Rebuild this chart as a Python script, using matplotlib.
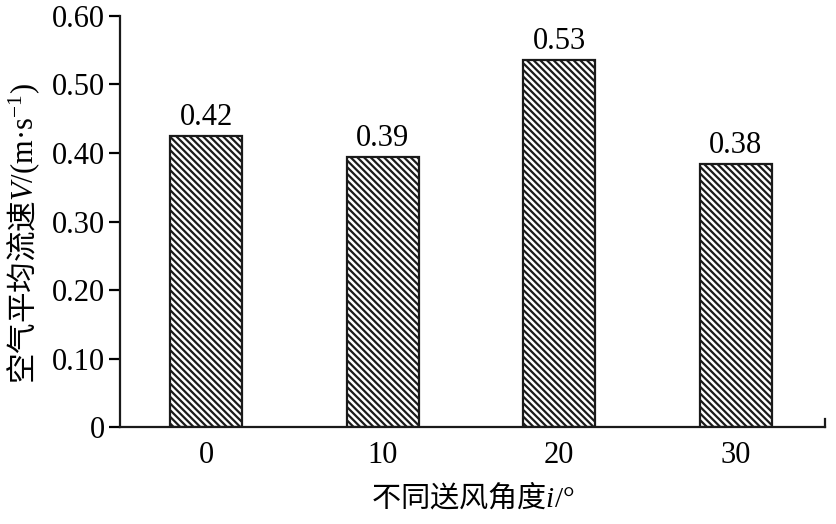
import matplotlib
matplotlib.use("Agg")
import matplotlib.pyplot as plt

# data
angles = ["0", "10", "20", "30"]
speeds = [0.425, 0.394, 0.536, 0.384]
speed_labels = ["0.42", "0.39", "0.53", "0.38"]
yticks = [0, 0.10, 0.20, 0.30, 0.40, 0.50, 0.60]
ytick_labels = ["0", "0.10", "0.20", "0.30", "0.40", "0.50", "0.60"]

plt.rcParams['font.family'] = ['Liberation Serif', 'Noto Sans CJK SC']
plt.rcParams['mathtext.fontset'] = 'custom'
plt.rcParams['mathtext.rm'] = 'Liberation Serif'
plt.rcParams['mathtext.it'] = 'Liberation Serif:italic'
plt.rcParams['mathtext.sf'] = 'Noto Sans CJK SC'
plt.rcParams['hatch.linewidth'] = 1.6

fig = plt.figure(figsize=(8.36, 5.24), dpi=100)
ax = fig.add_axes([0.1435, 0.185, 0.8435, 0.7845])

x = list(range(len(angles)))
ax.bar(x, speeds, width=0.41, color='white', edgecolor='#1a1a1a',
       linewidth=1.6, hatch='\\\\\\\\\\')

for xi, v, s in zip(x, speeds, speed_labels):
    ax.text(xi, v + 0.006, s, ha='center', va='bottom', fontsize=22)

ax.set_xlim(-0.489, 3.506)
ax.set_ylim(0, 0.6)
ax.set_xticks(x)
ax.set_xticklabels(angles, fontsize=22)
ax.set_yticks(yticks)
ax.set_yticklabels(ytick_labels, fontsize=22)

ax.tick_params(axis='x', length=0, pad=10)
ax.tick_params(axis='y', length=8, width=1.6, direction='out', pad=3)

ax.spines['top'].set_visible(False)
ax.spines['right'].set_bounds(0, 0.012)
for sp in ['left', 'bottom', 'right']:
    ax.spines[sp].set_linewidth(1.6)
    ax.spines[sp].set_color('#1a1a1a')

ax.set_xlabel(r'$\mathsf{不同送风角度}i$/°', fontsize=21, labelpad=8)
ax.set_ylabel(r'$\mathsf{空气平均流速}V$/(m·s$^{-1}$)', fontsize=22, labelpad=4)
ax.yaxis.set_label_coords(-0.11, 0.47)

fig.savefig('out.png', dpi=100)
